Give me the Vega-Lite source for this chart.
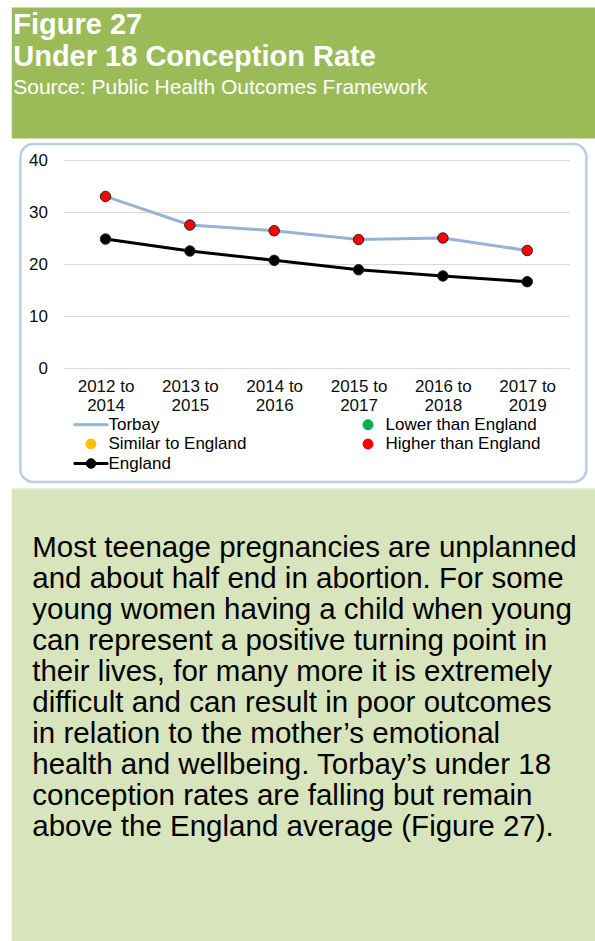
{
  "$schema": "https://vega.github.io/schema/vega-lite/v6.json",
  "background": "white",
  "padding": {"left": 10, "top": 6, "right": 0, "bottom": 0},
  "spacing": 3,
  "center": true,
  "config": {
    "font": "Liberation Sans",
    "axis": {"labelFont": "Liberation Sans", "labelFontSize": 17, "labelColor": "#0d0d0d", "domain": false, "ticks": false, "tickSize": 0},
    "legend": {"labelFont": "Liberation Sans"}
  },
  "datasets": {
    "rates": [
      {"period": "2012 to 2014", "area": "Torbay", "marker": "Higher than England", "rate": 33.0},
      {"period": "2012 to 2014", "area": "England", "marker": "England", "rate": 24.8},
      {"period": "2013 to 2015", "area": "Torbay", "marker": "Higher than England", "rate": 27.5},
      {"period": "2013 to 2015", "area": "England", "marker": "England", "rate": 22.5},
      {"period": "2014 to 2016", "area": "Torbay", "marker": "Higher than England", "rate": 26.4},
      {"period": "2014 to 2016", "area": "England", "marker": "England", "rate": 20.7},
      {"period": "2015 to 2017", "area": "Torbay", "marker": "Higher than England", "rate": 24.7},
      {"period": "2015 to 2017", "area": "England", "marker": "England", "rate": 18.9},
      {"period": "2016 to 2018", "area": "Torbay", "marker": "Higher than England", "rate": 25.0},
      {"period": "2016 to 2018", "area": "England", "marker": "England", "rate": 17.7},
      {"period": "2017 to 2019", "area": "Torbay", "marker": "Higher than England", "rate": 22.6},
      {"period": "2017 to 2019", "area": "England", "marker": "England", "rate": 16.6}
    ]
  },
  "vconcat": [
    {
      "width": 585,
      "height": 131,
      "view": {"fill": "#9BBB59", "stroke": "transparent"},
      "data": {"values": []},
      "mark": "point",
      "title": {
        "text": ["Figure 27", "Under 18 Conception Rate"],
        "subtitle": "Source: Public Health Outcomes Framework",
        "anchor": "start",
        "frame": "group",
        "orient": "top",
        "align": "left",
        "offset": -91,
        "dx": 2,
        "font": "Liberation Sans",
        "fontSize": 29,
        "fontWeight": "bold",
        "color": "white",
        "lineHeight": 32,
        "subtitleFont": "Liberation Sans",
        "subtitleFontSize": 21,
        "subtitleFontWeight": "normal",
        "subtitleColor": "white",
        "subtitlePadding": 5
      }
    },
    {
      "width": 566,
      "height": 338,
      "view": {"fill": "white", "stroke": "#B9CDE5", "strokeWidth": 2.5, "cornerRadius": 13},
      "data": {"name": "rates"},
      "encoding": {
        "x": {
          "field": "period",
          "type": "ordinal",
          "sort": null,
          "title": null,
          "scale": {"type": "point", "range": [43, 549], "padding": 0.5},
          "axis": {"orient": "bottom", "offset": -114, "grid": false, "labelAngle": 0, "labelPadding": 10, "labelLineHeight": 19, "labelExpr": "[slice(datum.label, 0, 7), slice(datum.label, 8)]"}
        },
        "y": {
          "field": "rate",
          "type": "quantitative",
          "title": null,
          "scale": {"domain": [0, 40], "range": [224, 16], "nice": false, "zero": true},
          "axis": {"orient": "left", "offset": -31, "values": [0, 10, 20, 30, 40], "grid": true, "gridColor": "#D9D9D9", "gridWidth": 1.2, "labelPadding": 4}
        }
      },
      "layer": [
        {
          "mark": {"type": "line", "strokeWidth": 3},
          "encoding": {
            "color": {
              "field": "area",
              "type": "nominal",
              "scale": {"domain": ["Torbay", "Lower than England", "Similar to England", "Higher than England", "England"], "range": ["#95B3D7", "#00B050", "#FFC000", "#FF0000", "#000000"]},
              "legend": {
                "title": null, "orient": "none", "direction": "horizontal", "legendX": 71.5, "legendY": 409, "columns": 2, "columnPadding": 102, "rowPadding": 1.5, "padding": 0,
                "symbolSize": 100, "symbolStrokeWidth": 1, "labelFontSize": 17, "labelColor": "#000000", "labelOffset": 9, "labelLimit": 300, "labelFont": "Liberation Sans",
                "encode": {
                  "symbols": {
                    "update": {
                      "shape": {"signal": "datum.value === 'Torbay' ? 'M-3.4,-0.2L3.4,-0.2L3.4,0.2L-3.4,0.2Z' : datum.value === 'England' ? 'M-3.4,-0.2L3.4,-0.2L3.4,0.2L-3.4,0.2ZM-0.95,0A0.95,0.95,0,1,1,0.95,0A0.95,0.95,0,1,1,-0.95,0Z' : 'M-3.4,0M3.4,0M-1,0A1,1,0,1,1,1,0A1,1,0,1,1,-1,0Z'"},
                      "fill": {"signal": "datum.value === 'Torbay' ? '#95B3D7' : datum.value === 'Lower than England' ? '#00B050' : datum.value === 'Similar to England' ? '#FFC000' : datum.value === 'Higher than England' ? '#FF0000' : '#000000'"},
                      "stroke": {"signal": "datum.value === 'Torbay' ? '#95B3D7' : datum.value === 'England' ? '#000000' : '#262626'"},
                      "strokeWidth": {"value": 1},
                      "opacity": {"value": 1}
                    }
                  }
                }
              }
            }
          }
        },
        {
          "mark": {"type": "circle", "size": 110, "opacity": 1, "stroke": "#262626", "strokeWidth": 1},
          "encoding": {
            "color": {
              "field": "marker",
              "type": "nominal",
              "scale": {"domain": ["Torbay", "Lower than England", "Similar to England", "Higher than England", "England"], "range": ["#95B3D7", "#00B050", "#FFC000", "#FF0000", "#000000"]},
              "legend": {
                "title": null, "orient": "none", "direction": "horizontal", "legendX": 71.5, "legendY": 409, "columns": 2, "columnPadding": 102, "rowPadding": 1.5, "padding": 0,
                "symbolSize": 100, "symbolStrokeWidth": 1, "labelFontSize": 17, "labelColor": "#000000", "labelOffset": 9, "labelLimit": 300, "labelFont": "Liberation Sans"
              }
            }
          }
        }
      ]
    },
    {
      "width": 585,
      "height": 453,
      "view": {"fill": "#D8E4BC", "stroke": "transparent"},
      "data": {"values": []},
      "mark": "point",
      "title": {
        "text": [
          "Most teenage pregnancies are unplanned",
          "and about half end in abortion.  For some",
          "young women having a child when young",
          "can represent a positive turning point in",
          "their lives, for many more it is extremely",
          "difficult and can result in poor outcomes",
          "in relation to the mother’s emotional",
          "health and wellbeing.  Torbay’s under 18",
          "conception rates are falling but remain",
          "above the England average (Figure 27)."
        ],
        "anchor": "start",
        "frame": "group",
        "orient": "top",
        "align": "left",
        "offset": -354,
        "dx": 21,
        "font": "Liberation Sans",
        "fontSize": 29.5,
        "fontWeight": "normal",
        "color": "#000000",
        "lineHeight": 31
      }
    }
  ]
}
